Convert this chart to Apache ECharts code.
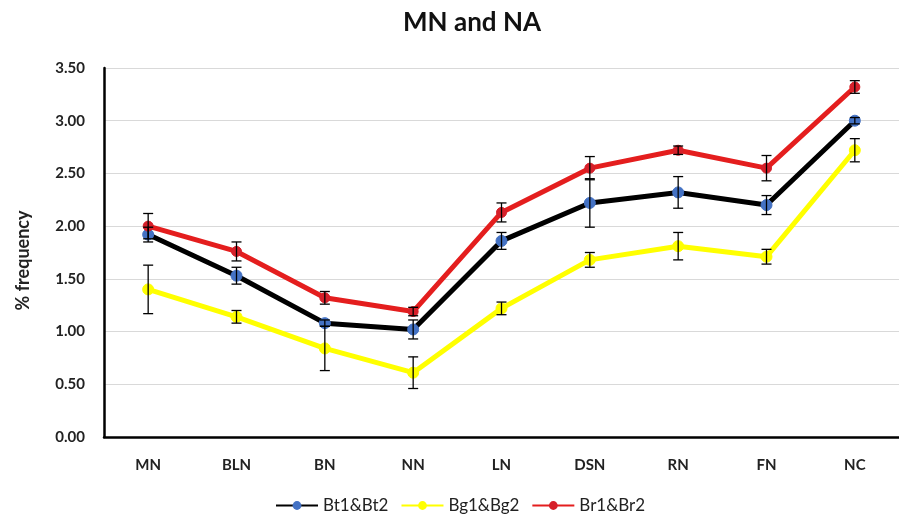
<!DOCTYPE html>
<html><head><meta charset="utf-8">
<script src="https://cdn.jsdelivr.net/npm/echarts@6/dist/echarts.min.js"></script>
<style>html,body{margin:0;padding:0;background:#fff}#c{width:899px;height:522px}</style>
</head><body><div id="c"></div>
<script>
const categories = ['MN','BLN','BN','NN','LN','DSN','RN','FN','NC'];
const yTicks = [0, 0.5, 1, 1.5, 2, 2.5, 3, 3.5];
const btValues = [1.92, 1.53, 1.08, 1.02, 1.86, 2.22, 2.32, 2.20, 3.00];
const btErrors = [0.07, 0.08, 0.03, 0.09, 0.08, 0.23, 0.15, 0.09, 0.03];
const bgValues = [1.40, 1.14, 0.84, 0.61, 1.22, 1.68, 1.81, 1.71, 2.72];
const bgErrors = [0.23, 0.06, 0.21, 0.15, 0.06, 0.07, 0.13, 0.07, 0.11];
const brValues = [2.00, 1.76, 1.32, 1.19, 2.13, 2.55, 2.72, 2.55, 3.32];
const brErrors = [0.12, 0.09, 0.06, 0.04, 0.09, 0.11, 0.04, 0.12, 0.06];
const seriesNames = ['Bt1&Bt2', 'Bg1&Bg2', 'Br1&Br2'];

const font = 'Lato, "Open Sans", sans-serif';
const chart = echarts.init(document.getElementById('c'));

function errSeries(vals, errs) {
  return {
    type: 'custom',
    silent: true,
    z: 5,
    data: vals.map((v, i) => [i, v - errs[i], v + errs[i]]),
    renderItem: function (params, api) {
      const lo = api.coord([api.value(0), api.value(1)]);
      const hi = api.coord([api.value(0), api.value(2)]);
      const w = 5;
      const st = { stroke: '#000', lineWidth: 1.3 };
      return {
        type: 'group',
        children: [
          { type: 'line', shape: { x1: lo[0], y1: lo[1], x2: hi[0], y2: hi[1] }, style: st },
          { type: 'line', shape: { x1: lo[0] - w, y1: lo[1], x2: lo[0] + w, y2: lo[1] }, style: st },
          { type: 'line', shape: { x1: hi[0] - w, y1: hi[1], x2: hi[0] + w, y2: hi[1] }, style: st }
        ]
      };
    }
  };
}

function lineSeries(name, vals, lineColor, markColor, size, z) {
  return {
    name: name,
    type: 'line',
    data: vals,
    z: z,
    symbol: 'circle',
    symbolSize: size,
    lineStyle: { color: lineColor, width: 5 },
    itemStyle: { color: markColor, borderColor: markColor },
    emphasis: { disabled: true }
  };
}

chart.setOption({
  animation: false,
  backgroundColor: '#fff',
  title: {
    text: 'MN and NA',
    left: 467, top: 5, textAlign: 'center',
    textStyle: { fontFamily: font, fontWeight: 'bold', fontSize: 26, color: '#111' }
  },
  legend: {
    bottom: 3, left: 270,
    itemWidth: 42, itemHeight: 11, itemGap: 12,
    textStyle: { fontFamily: font, fontSize: 17, color: '#222' },
    data: seriesNames.map(n => ({ name: n }))
  },
  grid: { left: 104, right: -17, top: 68, bottom: 85 },
  xAxis: {
    type: 'category',
    data: categories,
    boundaryGap: true,
    axisLine: { lineStyle: { color: '#000', width: 2.5 } },
    axisTick: { show: false },
    axisLabel: { fontFamily: font, fontWeight: 'bold', fontSize: 15, color: '#222', margin: 21 }
  },
  yAxis: {
    type: 'value',
    min: yTicks[0], max: yTicks[yTicks.length - 1], interval: 0.5,
    name: '% frequency',
    nameLocation: 'middle', nameGap: 72, nameRotate: 90,
    nameTextStyle: { fontFamily: font, fontWeight: 'bold', fontSize: 18, color: '#222', padding: [0, 16, 0, 0] },
    axisLine: { show: true, lineStyle: { color: '#000', width: 2.5 } },
    axisTick: { show: false },
    splitLine: { lineStyle: { color: '#d9d9d9', width: 1.2 } },
    axisLabel: { fontFamily: font, fontWeight: 'bold', fontSize: 15, color: '#222', margin: 19,
      formatter: v => v.toFixed(2) }
  },
  series: [
    lineSeries(seriesNames[0], btValues, '#000000', '#4472c4', 11, 2),
    lineSeries(seriesNames[1], bgValues, '#ffff00', '#ffff00', 11, 3),
    lineSeries(seriesNames[2], brValues, '#e41e1e', '#d6202a', 10, 4),
    errSeries(btValues, btErrors),
    errSeries(bgValues, bgErrors),
    errSeries(brValues, brErrors)
  ]
});
</script></body></html>
